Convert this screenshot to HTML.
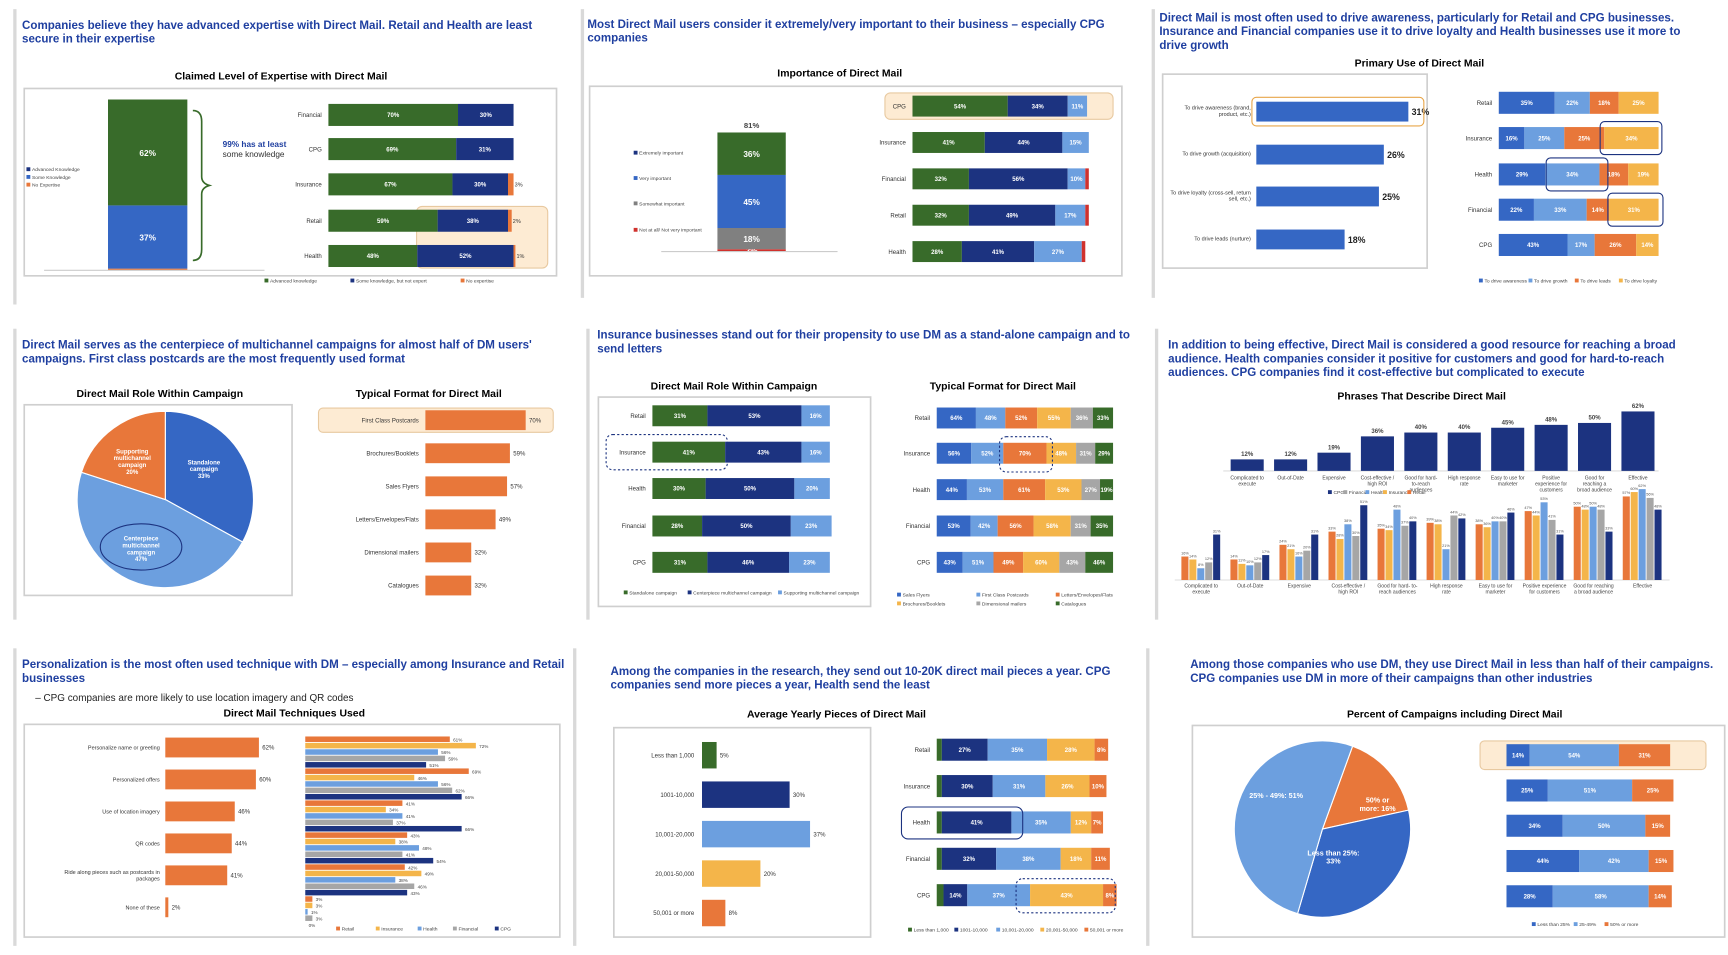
<!DOCTYPE html>
<html><head><meta charset="utf-8"><style>
html,body{margin:0;padding:0;background:#fff;}
svg{display:block;font-family:"Liberation Sans",Arial,sans-serif;}
</style></head><body>
<svg id="s" width="1728" height="955" viewBox="0 0 1568 866"></svg>
<script>
// ---------- DATA ----------
const p1Cats=["Financial","CPG","Insurance","Retail","Health"];
const p1Adv=[70,69,67,59,48];
const p1Some=[30,31,30,38,52];
const p1None=[0,0,3,2,1];
const p1ColVals=[62,37,1];
const p2Cats=["CPG","Insurance","Financial","Retail","Health"];
const p2Ext=[54,41,32,32,28];
const p2Very=[34,44,56,49,41];
const p2Some=[11,15,10,17,27];
const p2Not=[0,0,2,2,2];
const p2ColVals=[36,45,18,2];
const p3Uses=["To drive awareness (brand,|product, etc.)","To drive growth (acquisition)","To drive loyalty (cross-sell, return|sell, etc.)","To drive leads (nurture)"];
const p3UseVals=[31,26,25,18];
const p3Cats=["Retail","Insurance","Health","Financial","CPG"];
const p3Aw=[35,16,29,22,43];
const p3Gr=[22,25,34,33,17];
const p3Le=[18,25,18,14,26];
const p3Lo=[25,34,19,31,14];
const p4Pie=[33,47,20];
const p4Formats=["First Class Postcards","Brochures/Booklets","Sales Flyers","Letters/Envelopes/Flats","Dimensional mailers","Catalogues"];
const p4FormatVals=[70,59,57,49,32,32];
const p5Cats=["Retail","Insurance","Health","Financial","CPG"];
const p5Stand=[31,41,30,28,31];
const p5Center=[53,43,50,50,46];
const p5Support=[16,16,20,23,23];
const p5Flyers=[64,56,44,53,43];
const p5Postcards=[48,52,53,42,51];
const p5Letters=[52,70,61,56,49];
const p5Brochures=[55,48,53,58,60];
const p5Dimensional=[36,31,27,31,43];
const p5Catalogues=[33,29,19,35,46];
const p6Phrases=["Complicated to|execute","Out-of-Date","Expensive","Cost-effective /|high ROI","Good for hard-|to-reach|audiences","High response|rate","Easy to use for|marketer","Positive|experience for|customers","Good for|reaching a|broad audience","Effective"];
const p6Total=[12,12,19,36,40,40,45,48,50,62];
const p6Retail=[16,14,24,33,35,39,38,47,50,57];
const p6Insurance=[14,11,21,28,34,38,36,44,48,60];
const p6Health=[8,10,16,38,48,21,40,53,50,62];
const p6Financial=[12,12,20,30,37,44,40,41,48,56];
const p6CPG=[31,17,31,51,40,42,46,31,33,48];
const p7Techs=["Personalize name or greeting","Personalized offers","Use of location imagery","QR codes","Ride along pieces such as postcards in|packages","None of these"];
const p7Total=[62,60,46,44,41,2];
const p7Retail=[61,69,41,43,42,3];
const p7Insurance=[72,46,34,38,49,3];
const p7Health=[56,56,41,48,38,1];
const p7Financial=[59,62,37,41,46,3];
const p7CPG=[51,66,66,54,43,0];
const p8Bins=["Less than 1,000","1001-10,000","10,001-20,000","20,001-50,000","50,001 or more"];
const p8BinVals=[5,30,37,20,8];
const p8Cats=["Retail","Insurance","Health","Financial","CPG"];
const p8S1=[3,3,3,3,4];
const p8S2=[27,30,41,32,14];
const p8S3=[35,31,35,38,37];
const p8S4=[28,26,12,18,43];
const p8S5=[8,10,7,11,8];
const p9Pie=[16,33,51];
const p9Low=[14,25,34,44,28];
const p9Mid=[54,51,50,42,58];
const p9High=[31,25,15,15,14];

// ---------- HELPERS ----------
const NS="http://www.w3.org/2000/svg";
const S=document.getElementById('s');
const C={green:'#386b2a',navy:'#1c3380',lblue:'#6c9fdf',orange:'#e8773a',yellow:'#f4b54a',gray:'#a6a6a6',mblue:'#3567c4',red:'#d0312d',dgray:'#808080',title:'#1f3fa0'};
function mk(tag,a,parent){const e=document.createElementNS(NS,tag);for(const k in a)e.setAttribute(k,a[k]);(parent||S).appendChild(e);return e;}
function txt(x,y,s,size,fill,weight,anchor,name){
  const lines=String(s).split('|');
  const t=mk('text',{x:x,y:y,'font-size':size,fill:fill||'#222','font-weight':weight||'normal','text-anchor':anchor||'start'});
  lines.forEach((l,i)=>{const sp=mk('tspan',{x:x,dy:i?size*1.15:0},t);sp.textContent=l;});
  
  
  return t;
}
function box(x,y,w,h,fill,stroke,name,extra){
  const r=mk('rect',Object.assign({x:x,y:y,width:Math.max(0,w),height:h,fill:fill,stroke:stroke||'none'},extra||{}));
  
  
  return r;
}
function title(x,y,lines){lines.forEach((l,i)=>txt(x,y+i*12.5,l,10.5,C.title,'bold','start','panel-title'));}
function ctitle(x,y,s){txt(x,y,s,9.5,'#000','bold','middle','chart-title');}
// horizontal stacked bars; series array of arrays
function hstack(series,colors,cats,x0,ys,h,scale,norm,labW,pfx){
  cats.forEach((c,i)=>{
    txt(x0-6,ys[i]+2,c,5.5,'#333','normal','end','category-label');
    let tot=0;series.forEach(s=>tot+=s[i]);
    let x=x0;
    series.forEach((s,j)=>{
      const w=norm?s[i]/tot*norm:s[i]*scale;
      box(x,ys[i]-h/2,w,h,colors[j],'none',pfx+'-segment');
      if(w>9)txt(x+w/2,ys[i]+2,s[i]+'%',5.5,'#fff','bold','middle','value-label');
      else if(s[i]>0&&labW)txt(x+w+1,ys[i]+2,s[i]+'%',5,'#333','normal','start','value-label');
      x+=w;
    });
  });
}
function legend(x,y,items,colors,gap){
  let cx=x;items.forEach((it,i)=>{box(cx,y-3.5,3.5,3.5,colors[i],'none','legend-swatch');txt(cx+5,y,it,4.5,'#444','normal','start','legend-entry');cx+=gap[i]||gap[0];});
}
function frame(x,y,w,h){box(x,y,w,h,'#fff','#cfcfcf','chart-frame',{'stroke-width':1.5});}
function arcPath(cx,cy,r,a0,a1){const p=Math.PI/180;const x0=cx+r*Math.cos(a0*p),y0=cy+r*Math.sin(a0*p),x1=cx+r*Math.cos(a1*p),y1=cy+r*Math.sin(a1*p);return `M${cx},${cy} L${x0},${y0} A${r},${r} 0 ${a1-a0>180?1:0} 1 ${x1},${y1} Z`;}
function pie(cx,cy,r,vals,colors,start){let a=start;vals.forEach((v,i)=>{const a1=a+v*3.6;const p=mk('path',{d:arcPath(cx,cy,r,a,a1),fill:colors[i],stroke:'#fff','stroke-width':1});a=a1;});}

// dividers
[[12,8,268],[527,8,262],[1045,8,262],[12,298,264],[532,298,264],[1048,298,264],[12,588,270],[520,588,270],[1040,588,270]].forEach(d=>box(d[0],d[1],3,d[2],'#d9d9d9','none','panel-divider'));

// ---------- PANEL 1 ----------
title(20,26,["Companies believe they have advanced expertise with Direct Mail. Retail and Health are least","secure in their expertise"]);
ctitle(255,72,"Claimed Level of Expertise with Direct Mail");
frame(22,80,483,170);
(function(){const base=245,sc=155/100;let y=base;const cols=[C.green,C.mblue,C.orange];
 const seg=[p1ColVals[2],p1ColVals[1],p1ColVals[0]];const cc=[C.orange,C.mblue,C.green];
 seg.forEach((v,i)=>{const h=v*sc;box(98,y-h,72,h,cc[i],'none','expertise-column-segment');if(v>5)txt(134,y-h/2+3,v+'%',7.5,'#fff','bold','middle','value-label');y-=h;});
 mk('line',{x1:40,y1:245,x2:240,y2:245,stroke:'#ccc'});
})();
mk('path',{d:'M175,100 Q183,100 183,110 L183,160 Q183,166 190,168 Q183,170 183,176 L183,226 Q183,236 175,236',fill:'none',stroke:C.green,'stroke-width':1.5});
txt(202,133,"99% has at least",7.5,C.title,'bold','start','annotation');
txt(202,142,"some knowledge",7.5,'#333','normal','start','annotation');
legend(24,155,["Advanced Knowledge"],[C.navy],[60]);legend(24,162,["Some Knowledge"],[C.mblue],[60]);legend(24,169,["No Expertise"],[C.orange],[60]);
box(378,187,119,56,'#fdebd3','#e8c9a0','highlight',{rx:5});
hstack([p1Adv,p1Some,p1None],[C.green,C.navy,C.orange],p1Cats,298,[104,135,167,200,232],20,1.68,0,true,'expertise');
legend(240,256,["Advanced knowledge","Some knowledge, but not expert","No expertise"],[C.green,C.navy,C.orange],[78,100,60]);

// ---------- PANEL 2 ----------
title(533,25,["Most Direct Mail users consider it extremely/very important to their business – especially CPG","companies"]);
ctitle(762,69,"Importance of Direct Mail");
frame(535,78,483,172);
box(803,84,207,24,'#fdebd3','#e8c9a0','highlight',{rx:5});
(function(){let y=228;const sc=107/100;const cc=[C.red,C.dgray,C.mblue,C.green];const v=[p2ColVals[3],p2ColVals[2],p2ColVals[1],p2ColVals[0]];
 v.forEach((val,i)=>{const h=val*sc;box(651,y-h,62,h,cc[i],'none','importance-column-segment');txt(682,y-h/2+3,val+'%',7.5,i==0?'#fff':'#fff','bold','middle','value-label');y-=h;});
 txt(682,y-4,(p2ColVals[0]+p2ColVals[1])+'%',7,'#444','bold','middle','total-label');
 mk('line',{x1:600,y1:228,x2:760,y2:228,stroke:'#ccc'});
})();
legend(575,140,["Extremely important"],[C.navy],[60]);legend(575,163,["Very important"],[C.mblue],[60]);legend(575,186,["Somewhat important"],[C.dgray],[60]);legend(575,210,["Not at all/ Not very important"],[C.red],[60]);
hstack([p2Ext,p2Very,p2Some,p2Not],[C.green,C.navy,C.lblue,C.red],p2Cats,828,[96,129,162,195,228],19,1.6,0,false,'importance');

// ---------- PANEL 3 ----------
title(1052,19,["Direct Mail is most often used to drive awareness, particularly for Retail and CPG businesses.","Insurance and Financial companies use it to drive loyalty and Health businesses use it more to","drive growth"]);
ctitle(1288,60,"Primary Use of Direct Mail");
frame(1055,67,240,176);
[101,140,178,217].forEach((y,i)=>{
  const l=p3Uses[i].split('|');txt(1135,y-(l.length-1)*3+1,p3Uses[i],5,'#333','normal','end','use-label');
  const w=p3UseVals[i]*4.45;box(1140,y-9,w,18,C.mblue,'none','use-bar');txt(1140+w+3,y+3,p3UseVals[i]+'%',8,'#222','bold','start','value-label');
});
box(1136,88,156,26,'none','#e8a64a','highlight',{rx:4,'stroke-width':1});
hstack([p3Aw,p3Gr,p3Le,p3Lo],[C.mblue,C.lblue,C.orange,C.yellow],p3Cats,1360,[93,125,158,190,222],20,1.45,0,false,'use-share');
box(1452,110,56,30,'none',C.navy,'highlight',{rx:4});
box(1403,143,56,30,'none',C.navy,'highlight',{rx:4});
box(1459,175,50,30,'none',C.navy,'highlight',{rx:4});
legend(1342,256,["To drive awareness","To drive growth","To drive leads","To drive loyalty"],[C.mblue,C.lblue,C.orange,C.yellow],[45,42,40,40]);

// ---------- PANEL 4 ----------
title(20,316,["Direct Mail serves as the centerpiece of multichannel campaigns for almost half of DM users'","campaigns.  First class postcards are the most frequently used format"]);
ctitle(145,360,"Direct Mail Role Within Campaign");ctitle(389,360,"Typical Format for Direct Mail");
frame(22,367,243,173);
pie(150,453,80,p4Pie,[C.mblue,C.lblue,C.orange],-90);
txt(185,421,"Standalone|campaign|"+p4Pie[0]+"%",5.5,'#fff','bold','middle','slice-label');
txt(128,490,"Centerpiece|multichannel|campaign|"+p4Pie[1]+"%",5.5,'#fff','bold','middle','slice-label');
txt(120,411,"Supporting|multichannel|campaign|"+p4Pie[2]+"%",5.5,'#fff','bold','middle','slice-label');
mk('ellipse',{cx:128,cy:496,rx:37,ry:21,fill:'none',stroke:C.navy,'stroke-width':1});
box(289,370,213,22,'#fdebd3','#e8c9a0','highlight',{rx:4});
p4Formats.forEach((f,i)=>{const y=381+i*30;txt(380,y+2,f,5.5,'#333','normal','end','format-label');const w=p4FormatVals[i]*1.3;box(386,y-9,w,18,C.orange,'none','format-bar');txt(386+w+3,y+2,p4FormatVals[i]+'%',5.5,'#333','normal','start','value-label');});

// ---------- PANEL 5 ----------
title(542,307,["Insurance businesses stand out for their propensity to use DM as a stand-alone campaign and to","send letters"]);
ctitle(666,353,"Direct Mail Role Within Campaign");ctitle(910,353,"Typical Format for Direct Mail");
frame(543,360,247,190);
hstack([p5Stand,p5Center,p5Support],[C.green,C.navy,C.lblue],p5Cats,592,[377,410,443,477,510],19,1.61,0,false,'role');
box(550,394,110,32,'none',C.navy,'highlight',{rx:6,'stroke-dasharray':'2,2'});
legend(566,539,["Standalone campaign","Centerpiece multichannel campaign","Supporting multichannel campaign"],[C.green,C.navy,C.lblue],[58,82,80]);
hstack([p5Flyers,p5Postcards,p5Letters,p5Brochures,p5Dimensional,p5Catalogues],[C.mblue,C.lblue,C.orange,C.yellow,C.gray,C.green],p5Cats,850,[379,411,444,477,510],19,0,160,false,'format');
box(907,396,48,32,'none',C.navy,'highlight',{rx:6,'stroke-dasharray':'2,2'});
legend(814,541,["Sales Flyers","First Class Postcards","Letters/Envelopes/Flats"],[C.mblue,C.lblue,C.orange],[72,72,72]);
legend(814,549,["Brochures/Booklets","Dimensional mailers","Catalogues"],[C.yellow,C.gray,C.green],[72,72,72]);

// ---------- PANEL 6 ----------
title(1060,316,["In addition to being effective, Direct Mail is considered a good resource for reaching a broad","audience.  Health companies consider it positive for customers and good for hard-to-reach","audiences.  CPG companies find it cost-effective but complicated to execute"]);
ctitle(1290,362,"Phrases That Describe Direct Mail");
(function(){const x0=1112,step=39.4,base=427,sc=0.87;
 mk('line',{x1:1110,y1:base,x2:1505,y2:base,stroke:'#ddd'});
 p6Total.forEach((v,i)=>{const cx=x0+step*(i+0.5);const h=v*sc;box(cx-15,base-h,30,h,C.navy,'none','phrase-bar');txt(cx,base-h-3,v+'%',5.5,'#444','bold','middle','value-label');txt(cx,435,p6Phrases[i],4.6,'#444','normal','middle','phrase-label');});
 legend(1205,448,["CPG","Financial","Health","Insurance","Retail"],[C.navy,C.gray,C.lblue,C.yellow,C.orange],[14,20,16,22,16]);
 const base2=526,sc2=1.33,ser=[p6Retail,p6Insurance,p6Health,p6Financial,p6CPG],cols=[C.orange,C.yellow,C.lblue,C.gray,C.navy];
 const x1=1068,st2=44.5;
 mk('line',{x1:1066,y1:base2,x2:1515,y2:base2,stroke:'#ddd'});
 p6Total.forEach((t,i)=>{const gx=x1+st2*i+4;ser.forEach((s,j)=>{const h=s[i]*sc2;box(gx+j*7.2,base2-h,6.4,h,cols[j],'none','segment-bar');txt(gx+j*7.2+3.2,base2-h-2,s[i]+'%',3.5,'#555','normal','middle','value-label');});
  txt(gx+18,533,p6Phrases[i].replace('|to-reach|audiences',' to-|reach audiences').replace('|reaching a|broad audience',' reaching|a broad audience').replace('|experience for|customers',' experience|for customers'),4.6,'#444','normal','middle','phrase-label');});
})();

// ---------- PANEL 7 ----------
title(20,606,["Personalization is the most often used technique with DM – especially among Insurance and Retail","businesses"]);
txt(32,636,"–  CPG companies are more likely to use location imagery and QR codes",9,'#222','normal','start','bullet-note');
ctitle(267,650,"Direct Mail Techniques Used");
frame(22,657,486,193);
p7Techs.forEach((t,i)=>{const y=678+i*29;txt(145,y+(t.includes('|')?-1:2),t,5,'#333','normal','end','technique-label');const w=p7Total[i]*1.37;box(150,y-9,w,18,C.orange,'none','technique-bar');txt(150+w+3,y+2,p7Total[i]+'%',5.5,'#333','normal','start','value-label');});
(function(){const ser=[p7Retail,p7Insurance,p7Health,p7Financial,p7CPG],cols=[C.orange,C.yellow,C.lblue,C.gray,C.navy];
 p7Total.forEach((t,i)=>{const gy=668+i*29;ser.forEach((s,j)=>{const y=gy+j*5.8;const w=s[i]*2.15;box(277,y,w,5,cols[j],'none','segment-bar');txt(277+w+3,y+4.5,s[i]+'%',4.2,'#444','normal','start','value-label');});});
 legend(305,844,["Retail","Insurance","Health","Financial","CPG"],[C.orange,C.yellow,C.lblue,C.gray,C.navy],[36,38,32,38,30]);
})();

// ---------- PANEL 8 ----------
title(554,612,["Among the companies in the research, they send out 10-20K direct mail pieces a year. CPG","companies send more pieces a year, Health send the least"]);
ctitle(759,651,"Average Yearly Pieces of Direct Mail");
frame(557,660,233,190);
(function(){const cols=[C.green,C.navy,C.lblue,C.yellow,C.orange];
 p8Bins.forEach((b,i)=>{const y=685+i*35.8;txt(630,y+2,b,5.5,'#333','normal','end','bin-label');const w=p8BinVals[i]*2.65;box(637,y-12,w,24,cols[i],'none','volume-bar');txt(637+w+3,y+2,p8BinVals[i]+'%',5.5,'#333','normal','start','value-label');});
 hstack([p8S1,p8S2,p8S3,p8S4,p8S5],cols,p8Cats,850,[680,713,746,779,812],20,1.54,0,false,'volume-share');
 legend(824,845,p8Bins,cols,[42,38,40,40,40]);
})();
box(818,732,110,29,'none',C.navy,'highlight',{rx:6});
box(922,797,90,31,'none',C.navy,'highlight',{rx:6,'stroke-dasharray':'2,2'});

// ---------- PANEL 9 ----------
title(1080,606,["Among those companies who use DM, they use Direct Mail in less than half of their campaigns.","CPG companies use DM in more of their campaigns than other industries"]);
ctitle(1320,651,"Percent of Campaigns including Direct Mail");
frame(1082,658,483,192);
pie(1200,752,80,p9Pie,[C.orange,C.mblue,C.lblue],-70);
txt(1158,724,"25% - 49%: "+p9Pie[2]+"%",6.5,'#fff','bold','middle','slice-label');
txt(1250,728,"50% or|more: "+p9Pie[0]+"%",6.5,'#fff','bold','middle','slice-label');
txt(1210,776,"Less than 25%:|"+p9Pie[1]+"%",6.5,'#fff','bold','middle','slice-label');
box(1343,672,205,26,'#fdebd3','#e8c9a0','highlight',{rx:4});
hstack([p9Low,p9Mid,p9High],[C.mblue,C.lblue,C.orange],["","","","",""],1367,[685,717,749,781,813],20,1.5,0,false,'campaign-share');
legend(1390,840,["Less than 25%","25-49%","50% or more"],[C.mblue,C.lblue,C.orange],[38,28,40]);
</script>
</body></html>
